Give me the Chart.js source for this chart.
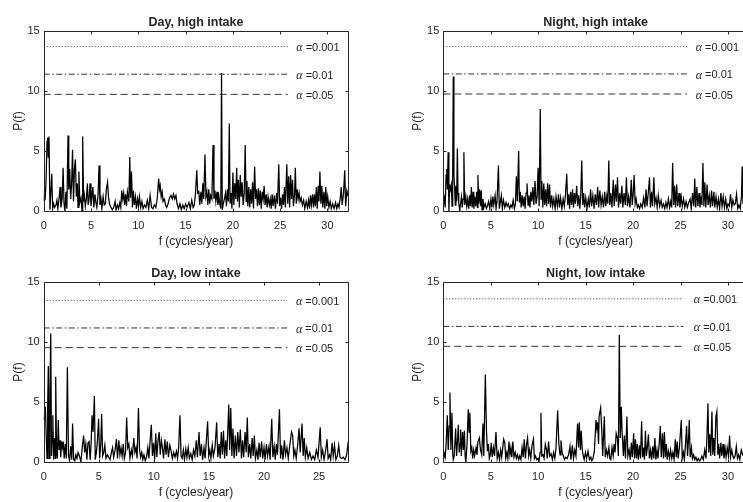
<!DOCTYPE html>
<html><head><meta charset="utf-8">
<script src="https://cdn.jsdelivr.net/npm/chart.js@4.4.0/dist/chart.umd.min.js"></script>
<style>
html,body{margin:0;padding:0;background:#fff;overflow:hidden;width:743px;height:502px;position:relative;}
canvas{position:absolute;}
</style></head><body>
<canvas id="c0" width="372" height="251" style="left:0;top:0"></canvas>
<canvas id="c1" width="380" height="251" style="left:372px;top:0"></canvas>
<canvas id="c2" width="372" height="251" style="left:0;top:251px"></canvas>
<canvas id="c3" width="380" height="251" style="left:372px;top:251px"></canvas>
<script>
// ---- data: [frequency (cycles/year), P(f)] vertices ----
const dayHigh = [[0.00,0.8],[0.08,1.8],[0.15,0.9],[0.25,2.5],[0.35,5.8],[0.42,6.1],[0.48,4.5],[0.56,6.2],[0.66,0.1],[0.75,1.5],[0.85,3.1],[0.95,0.2],[1.05,0.6],[1.15,0.3],[1.30,0.5],[1.40,0.9],[1.50,0.2],[1.62,1.0],[1.73,2.0],[1.82,0.3],[1.95,1.0],[2.05,3.6],[2.15,0.6],[2.25,0.0],[2.35,1.6],[2.45,0.2],[2.57,6.3],[2.65,1.8],[2.75,3.5],[2.85,1.0],[2.95,2.2],[3.05,5.1],[3.15,0.8],[3.25,3.5],[3.35,4.3],[3.45,1.2],[3.55,2.3],[3.63,0.3],[3.72,3.3],[3.82,0.7],[3.95,1.1],[4.05,0.0],[4.12,6.2],[4.22,0.8],[4.30,1.3],[4.40,0.4],[4.52,1.1],[4.62,2.3],[4.70,0.5],[4.80,1.0],[4.90,2.3],[5.00,0.4],[5.10,1.2],[5.20,2.0],[5.30,0.3],[5.42,1.4],[5.52,0.7],[5.62,0.3],[5.75,1.4],[5.85,3.8],[5.95,0.5],[6.05,1.0],[6.15,0.2],[6.28,1.2],[6.40,0.5],[6.52,0.6],[6.62,1.8],[6.75,2.4],[6.85,1.2],[6.95,0.6],[7.10,0.3],[7.25,0.1],[7.40,0.3],[7.55,0.8],[7.65,0.1],[7.80,0.5],[7.92,0.2],[8.05,0.7],[8.15,0.3],[8.25,1.7],[8.35,1.0],[8.45,1.5],[8.55,0.5],[8.65,1.4],[8.75,0.4],[8.85,1.6],[9.00,0.8],[9.10,4.5],[9.18,1.1],[9.28,3.3],[9.38,0.3],[9.48,1.7],[9.58,0.5],[9.70,1.2],[9.80,0.2],[9.92,1.0],[10.02,0.4],[10.12,1.2],[10.25,0.3],[10.38,0.8],[10.50,0.2],[10.65,0.5],[10.80,0.3],[10.95,0.9],[11.10,0.2],[11.25,1.3],[11.40,0.3],[11.55,0.2],[11.70,0.5],[11.85,0.3],[12.00,1.0],[12.15,2.7],[12.25,1.8],[12.32,2.1],[12.42,1.2],[12.52,1.6],[12.62,0.8],[12.75,1.0],[12.88,0.5],[13.00,0.3],[13.15,0.6],[13.30,1.1],[13.45,1.3],[13.60,1.0],[13.72,1.4],[13.85,1.0],[13.98,1.3],[14.10,0.6],[14.25,0.2],[14.40,0.6],[14.55,0.1],[14.70,0.5],[14.85,0.2],[15.00,0.6],[15.15,0.3],[15.35,0.7],[15.50,0.2],[15.65,0.9],[15.80,0.3],[15.92,0.5],[16.05,1.5],[16.18,3.4],[16.28,1.5],[16.40,1.6],[16.50,0.5],[16.62,1.6],[16.72,0.6],[16.82,2.3],[16.92,1.0],[17.05,4.7],[17.15,1.2],[17.25,1.6],[17.35,0.5],[17.45,1.8],[17.55,0.6],[17.65,1.3],[17.78,1.0],[17.90,5.5],[18.00,1.0],[18.10,1.7],[18.20,0.8],[18.32,1.6],[18.42,0.5],[18.52,1.2],[18.62,0.6],[18.72,0.2],[18.80,11.5],[18.88,0.1],[18.98,0.6],[19.10,1.0],[19.22,1.5],[19.32,0.4],[19.42,1.8],[19.52,0.8],[19.62,7.3],[19.70,0.6],[19.80,1.5],[19.90,0.2],[20.00,3.2],[20.10,0.5],[20.20,2.3],[20.30,1.0],[20.40,3.6],[20.48,0.8],[20.58,2.6],[20.68,0.3],[20.78,3.0],[20.88,1.2],[20.98,2.4],[21.08,0.5],[21.20,1.5],[21.30,5.5],[21.40,0.8],[21.48,2.5],[21.58,0.4],[21.68,2.0],[21.78,0.3],[21.88,1.8],[21.98,0.6],[22.08,2.4],[22.18,0.2],[22.30,3.7],[22.40,1.0],[22.50,1.8],[22.60,0.4],[22.70,1.9],[22.80,0.5],[22.90,1.7],[23.00,0.2],[23.10,1.6],[23.20,1.0],[23.30,2.1],[23.40,0.5],[23.52,1.4],[23.62,0.3],[23.72,1.2],[23.85,0.5],[23.95,1.0],[24.05,0.2],[24.15,1.4],[24.25,0.4],[24.38,1.3],[24.50,0.2],[24.62,1.5],[24.72,0.6],[24.85,3.9],[24.95,0.4],[25.05,1.1],[25.15,0.2],[25.25,1.4],[25.35,0.5],[25.45,2.0],[25.55,0.3],[25.70,3.9],[25.80,0.6],[25.90,2.9],[26.00,0.3],[26.10,3.0],[26.20,1.0],[26.30,2.6],[26.40,0.4],[26.52,1.4],[26.60,3.6],[26.70,0.6],[26.80,1.8],[26.90,1.0],[27.00,1.5],[27.10,0.8],[27.22,1.1],[27.35,0.5],[27.48,0.9],[27.60,0.2],[27.75,0.8],[27.88,0.3],[28.00,0.9],[28.10,0.2],[28.20,1.3],[28.30,0.5],[28.42,1.4],[28.52,0.3],[28.62,1.4],[28.72,0.4],[28.82,2.0],[28.92,0.2],[29.02,2.1],[29.10,0.8],[29.20,3.3],[29.30,0.6],[29.40,2.1],[29.50,0.3],[29.62,1.6],[29.72,0.2],[29.82,2.0],[29.92,0.4],[30.02,1.2],[30.15,0.3],[30.28,0.8],[30.40,0.2],[30.55,0.6],[30.70,0.2],[30.85,0.7],[30.98,0.2],[31.10,0.6],[31.22,0.3],[31.35,1.1],[31.45,2.0],[31.55,0.5],[31.70,1.5],[31.82,3.4],[31.92,0.4],[32.05,1.7],[32.20,1.2]];

const nightHigh = [[0.00,1.2],[0.06,0.6],[0.12,1.0],[0.20,0.3],[0.29,3.0],[0.36,3.5],[0.43,1.8],[0.51,4.9],[0.59,0.0],[0.67,2.2],[0.75,1.8],[0.84,2.2],[0.92,0.4],[0.99,3.0],[1.05,11.2],[1.12,3.0],[1.19,2.0],[1.26,0.5],[1.33,2.1],[1.41,0.8],[1.48,5.2],[1.55,1.5],[1.63,0.7],[1.73,0.0],[1.82,0.6],[1.92,1.2],[2.00,0.3],[2.09,1.0],[2.17,4.9],[2.26,0.5],[2.37,1.2],[2.47,0.4],[2.57,1.0],[2.67,0.2],[2.77,1.3],[2.86,0.4],[2.96,2.0],[3.04,0.3],[3.14,1.6],[3.22,0.2],[3.32,1.2],[3.42,0.4],[3.52,1.6],[3.59,0.3],[3.65,3.0],[3.73,0.6],[3.83,1.8],[3.92,0.4],[4.00,1.7],[4.08,0.1],[4.18,1.0],[4.28,0.3],[4.41,0.6],[4.54,0.2],[4.64,0.4],[4.77,0.8],[4.90,0.2],[5.02,1.0],[5.12,0.3],[5.22,1.2],[5.32,0.5],[5.46,1.3],[5.56,0.2],[5.66,0.8],[5.81,3.8],[5.90,0.2],[6.00,0.7],[6.12,1.3],[6.22,0.2],[6.34,0.9],[6.48,0.3],[6.61,0.7],[6.73,0.4],[6.85,0.6],[6.99,0.2],[7.12,0.5],[7.24,0.3],[7.36,0.9],[7.50,0.2],[7.60,0.6],[7.70,2.9],[7.80,0.8],[7.94,5.0],[8.02,0.7],[8.11,1.6],[8.21,0.3],[8.31,1.3],[8.42,0.4],[8.52,1.2],[8.62,0.2],[8.72,1.5],[8.82,2.3],[8.93,0.5],[9.03,1.3],[9.13,0.3],[9.23,1.6],[9.33,0.8],[9.44,2.0],[9.54,0.5],[9.67,2.5],[9.77,0.6],[9.89,1.2],[9.99,3.6],[10.10,0.4],[10.22,8.5],[10.30,1.0],[10.38,2.5],[10.49,0.3],[10.59,2.3],[10.69,0.5],[10.79,1.8],[10.89,0.4],[11.00,2.3],[11.10,0.6],[11.20,2.2],[11.30,0.3],[11.42,1.3],[11.53,0.4],[11.65,1.0],[11.78,0.2],[11.88,1.2],[12.02,0.4],[12.14,1.4],[12.24,0.3],[12.36,1.1],[12.50,0.2],[12.63,1.0],[12.75,0.4],[12.87,1.3],[13.01,3.1],[13.11,0.5],[13.21,1.4],[13.31,0.2],[13.41,1.6],[13.52,0.5],[13.62,1.8],[13.72,0.3],[13.82,1.5],[13.92,0.6],[14.06,2.1],[14.16,0.4],[14.28,1.3],[14.38,0.2],[14.48,1.2],[14.59,4.2],[14.69,0.5],[14.79,1.5],[14.89,0.3],[15.01,1.1],[15.15,0.2],[15.28,1.0],[15.40,0.3],[15.52,1.8],[15.63,0.4],[15.76,1.3],[15.89,0.2],[16.01,1.4],[16.14,0.5],[16.27,2.0],[16.37,0.3],[16.50,1.7],[16.63,0.5],[16.75,1.2],[16.88,0.3],[17.01,1.6],[17.12,0.4],[17.24,1.3],[17.34,0.6],[17.44,4.2],[17.54,0.5],[17.65,1.5],[17.77,0.3],[17.91,2.6],[18.01,0.4],[18.14,2.2],[18.24,0.8],[18.36,2.8],[18.46,0.3],[18.58,1.5],[18.69,0.6],[18.82,2.1],[18.92,0.3],[19.05,1.5],[19.18,0.5],[19.30,2.8],[19.40,0.4],[19.53,1.2],[19.67,0.3],[19.81,2.6],[19.91,0.5],[20.01,1.4],[20.11,3.0],[20.22,0.6],[20.32,1.0],[20.45,0.3],[20.55,0.5],[20.69,0.2],[20.81,0.6],[20.96,0.3],[21.11,1.1],[21.24,0.3],[21.37,1.8],[21.47,0.4],[21.60,1.5],[21.73,2.8],[21.83,0.3],[21.95,1.6],[22.05,0.4],[22.19,2.8],[22.29,0.6],[22.42,1.1],[22.54,0.3],[22.66,1.3],[22.80,0.4],[22.95,0.9],[23.07,0.3],[23.21,0.6],[23.34,0.2],[23.46,0.7],[23.58,0.3],[23.72,1.0],[23.85,0.3],[23.97,0.8],[24.07,0.3],[24.17,4.0],[24.28,0.5],[24.38,2.1],[24.48,0.3],[24.60,2.2],[24.70,0.4],[24.84,1.5],[24.94,0.3],[25.07,1.2],[25.19,0.4],[25.32,1.0],[25.45,0.3],[25.58,0.8],[25.72,0.3],[25.86,0.7],[26.01,1.0],[26.13,0.2],[26.27,1.5],[26.40,0.4],[26.50,2.7],[26.60,0.3],[26.72,2.0],[26.83,0.4],[26.95,1.5],[27.05,0.3],[27.15,1.2],[27.25,0.5],[27.36,4.0],[27.46,0.4],[27.56,2.4],[27.66,0.3],[27.80,2.2],[27.90,0.5],[28.03,1.3],[28.15,0.3],[28.27,1.7],[28.38,0.4],[28.51,1.6],[28.61,0.3],[28.74,1.2],[28.87,0.3],[28.99,1.0],[29.12,0.2],[29.25,1.5],[29.38,0.4],[29.50,1.2],[29.63,0.3],[29.76,1.0],[29.89,0.2],[30.01,0.6],[30.14,0.4],[30.27,1.4],[30.40,0.3],[30.52,0.9],[30.65,0.5],[30.78,0.6],[30.90,1.4],[31.03,0.2],[31.16,0.5],[31.29,0.2],[31.42,1.2],[31.50,3.7],[31.58,0.6],[31.72,1.4],[31.87,0.5],[32.10,1.0]];

const dayLow = [[0.00,3.5],[0.07,4.0],[0.15,4.6],[0.22,2.5],[0.30,0.3],[0.36,4.5],[0.42,8.0],[0.49,0.3],[0.57,6.0],[0.64,10.7],[0.71,0.5],[0.78,2.5],[0.83,3.9],[0.90,0.2],[0.98,2.0],[1.05,0.3],[1.09,7.1],[1.16,1.0],[1.24,0.3],[1.32,3.5],[1.40,1.0],[1.48,1.8],[1.55,0.4],[1.62,1.7],[1.70,1.2],[1.78,1.7],[1.86,0.3],[1.96,1.5],[2.05,0.3],[2.15,7.9],[2.25,0.5],[2.35,0.1],[2.45,1.3],[2.55,0.2],[2.62,3.2],[2.72,0.2],[2.82,0.1],[2.92,0.6],[3.02,0.3],[3.12,0.8],[3.25,0.5],[3.38,0.0],[3.50,1.2],[3.62,2.2],[3.72,0.8],[3.82,1.5],[3.92,0.2],[4.02,1.6],[4.12,1.7],[4.22,0.2],[4.30,1.5],[4.39,3.9],[4.48,2.5],[4.60,5.5],[4.68,0.2],[4.78,0.8],[4.88,1.8],[4.98,3.6],[5.08,0.3],[5.18,1.5],[5.26,4.0],[5.35,0.5],[5.45,0.8],[5.55,1.4],[5.65,0.3],[5.78,0.6],[5.90,0.4],[6.02,0.2],[6.15,0.8],[6.25,1.2],[6.35,0.4],[6.48,1.0],[6.60,1.9],[6.70,0.3],[6.82,1.8],[6.92,0.6],[7.02,1.2],[7.12,0.5],[7.22,1.5],[7.32,0.3],[7.43,0.8],[7.53,3.7],[7.63,1.2],[7.73,1.5],[7.83,0.3],[7.95,1.0],[8.05,0.5],[8.18,2.0],[8.28,0.8],[8.38,1.2],[8.48,0.3],[8.60,4.5],[8.70,1.0],[8.80,0.4],[8.90,0.8],[9.00,0.2],[9.10,0.6],[9.22,0.1],[9.35,0.5],[9.45,1.2],[9.55,0.3],[9.66,1.8],[9.77,3.1],[9.87,0.5],[9.97,1.6],[10.07,0.2],[10.17,2.4],[10.27,0.4],[10.38,1.8],[10.48,2.5],[10.58,0.6],[10.68,1.8],[10.78,1.2],[10.88,0.3],[11.00,1.9],[11.10,0.6],[11.22,1.7],[11.32,0.4],[11.45,1.4],[11.55,1.0],[11.68,0.3],[11.80,0.8],[11.92,0.4],[12.05,0.9],[12.15,0.3],[12.25,1.2],[12.37,3.9],[12.47,0.5],[12.57,0.3],[12.68,1.0],[12.78,0.2],[12.90,1.1],[13.00,0.4],[13.12,1.2],[13.22,0.3],[13.35,0.7],[13.48,0.2],[13.60,1.0],[13.72,0.5],[13.85,1.8],[13.95,0.4],[14.10,2.5],[14.20,0.5],[14.32,1.5],[14.42,0.2],[14.55,1.2],[14.65,0.3],[14.78,2.0],[14.88,3.4],[14.98,0.5],[15.08,1.0],[15.18,0.3],[15.30,1.4],[15.40,0.5],[15.55,1.2],[15.70,3.3],[15.80,0.4],[15.92,1.5],[16.02,0.3],[16.12,2.5],[16.22,0.6],[16.32,2.6],[16.42,0.3],[16.52,1.8],[16.62,0.5],[16.80,4.8],[16.88,1.0],[16.98,4.5],[17.08,0.5],[17.18,2.8],[17.28,0.3],[17.40,2.2],[17.50,0.5],[17.62,2.5],[17.72,0.8],[17.85,2.7],[17.95,0.3],[18.05,1.8],[18.15,0.4],[18.28,2.5],[18.38,0.8],[18.48,3.7],[18.58,0.4],[18.70,1.5],[18.80,0.3],[18.92,2.0],[19.02,0.5],[19.12,2.2],[19.22,0.3],[19.35,1.0],[19.45,0.2],[19.55,1.6],[19.65,0.4],[19.78,1.7],[19.88,0.3],[20.00,1.2],[20.10,0.2],[20.22,1.5],[20.32,0.5],[20.45,1.3],[20.55,0.2],[20.70,3.6],[20.80,0.4],[20.92,1.3],[21.02,0.2],[21.12,1.5],[21.22,0.6],[21.40,4.4],[21.50,0.3],[21.60,1.4],[21.72,0.2],[21.85,1.8],[21.95,0.6],[22.08,1.2],[22.20,0.3],[22.35,1.5],[22.50,2.5],[22.60,2.2],[22.70,0.5],[22.80,1.0],[22.92,0.3],[23.05,1.4],[23.18,2.8],[23.28,0.8],[23.45,3.2],[23.55,0.5],[23.65,2.0],[23.75,0.4],[23.88,1.2],[24.00,0.3],[24.15,0.8],[24.30,0.2],[24.45,0.5],[24.60,0.2],[24.75,1.0],[24.90,0.4],[25.10,2.9],[25.20,0.4],[25.32,1.0],[25.45,0.2],[25.60,1.0],[25.72,1.9],[25.82,0.3],[25.95,0.6],[26.05,0.2],[26.18,1.6],[26.28,0.5],[26.40,1.4],[26.52,0.2],[26.65,0.5],[26.78,1.4],[26.90,0.4],[27.05,0.3],[27.20,0.4],[27.35,0.2],[27.50,0.6],[27.65,1.7]];

const nightLow = [[0.00,0.1],[0.10,0.7],[0.20,0.4],[0.30,1.5],[0.42,3.9],[0.52,1.0],[0.62,3.0],[0.70,5.8],[0.80,1.0],[0.91,4.1],[1.00,0.6],[1.05,0.2],[1.15,0.5],[1.30,2.8],[1.40,0.5],[1.50,1.8],[1.58,3.1],[1.68,0.8],[1.76,1.5],[1.83,2.7],[1.90,0.5],[2.03,2.5],[2.12,1.0],[2.22,2.6],[2.30,0.5],[2.38,0.0],[2.50,1.5],[2.63,4.4],[2.72,2.5],[2.80,4.1],[2.90,0.9],[3.00,1.2],[3.10,0.3],[3.20,1.0],[3.30,0.5],[3.45,1.2],[3.55,0.6],[3.65,1.7],[3.80,2.0],[3.92,1.0],[4.05,0.6],[4.18,3.2],[4.27,0.5],[4.43,7.3],[4.55,2.6],[4.65,0.9],[4.75,1.5],[4.85,0.3],[4.95,0.6],[5.05,1.6],[5.15,0.4],[5.28,1.2],[5.40,0.5],[5.55,2.5],[5.68,0.3],[5.80,0.8],[5.92,0.2],[6.05,1.0],[6.15,0.4],[6.28,1.3],[6.36,1.9],[6.48,1.6],[6.58,0.3],[6.70,0.8],[6.80,0.3],[6.92,1.7],[7.02,0.6],[7.12,1.2],[7.22,0.4],[7.33,1.7],[7.45,0.4],[7.58,0.8],[7.70,0.3],[7.82,0.6],[7.95,0.2],[8.05,0.5],[8.18,0.2],[8.30,1.2],[8.42,0.4],[8.53,1.9],[8.65,0.3],[8.78,1.5],[8.88,2.0],[9.00,0.5],[9.10,1.0],[9.22,0.3],[9.35,1.4],[9.50,1.9],[9.60,0.3],[9.72,0.5],[9.85,0.2],[10.00,0.3],[10.10,0.1],[10.20,0.8],[10.29,4.1],[10.38,0.5],[10.50,0.6],[10.62,0.3],[10.75,1.5],[10.88,1.0],[10.95,0.3],[11.10,1.7],[11.20,0.5],[11.35,0.7],[11.50,0.2],[11.62,0.8],[11.75,0.3],[11.88,1.2],[12.05,4.3],[12.18,1.5],[12.30,0.6],[12.40,1.8],[12.52,0.8],[12.65,0.5],[12.78,0.2],[12.90,0.4],[13.05,0.3],[13.20,0.6],[13.35,1.3],[13.45,0.2],[13.60,1.4],[13.72,0.3],[13.85,1.0],[13.98,0.5],[14.15,3.2],[14.25,1.2],[14.33,3.3],[14.45,1.0],[14.53,2.6],[14.65,1.0],[14.75,0.5],[14.85,0.2],[14.98,0.8],[15.10,0.3],[15.25,0.9],[15.40,0.2],[15.55,0.4],[15.65,0.1],[15.78,0.3],[15.92,0.9],[16.09,3.5],[16.18,2.8],[16.26,3.3],[16.36,1.5],[16.42,3.8],[16.58,4.5],[16.70,2.7],[16.80,0.5],[16.97,3.8],[17.07,0.4],[17.20,1.0],[17.32,0.5],[17.45,1.2],[17.55,0.3],[17.65,0.2],[17.78,1.2],[17.90,0.5],[18.00,1.5],[18.10,0.8],[18.22,2.4],[18.35,2.0],[18.45,0.5],[18.55,10.6],[18.65,2.0],[18.76,4.6],[18.85,2.4],[18.98,0.5],[19.08,2.2],[19.20,0.3],[19.35,3.8],[19.45,0.5],[19.58,1.0],[19.70,0.2],[19.82,1.6],[19.92,0.4],[20.06,2.4],[20.15,0.3],[20.25,1.9],[20.35,0.3],[20.45,1.5],[20.55,0.2],[20.68,1.4],[20.78,0.3],[20.90,3.4],[21.00,0.4],[21.10,1.2],[21.20,0.2],[21.30,2.6],[21.40,0.5],[21.50,1.2],[21.62,2.3],[21.72,0.3],[21.85,1.0],[21.95,0.2],[22.08,1.3],[22.18,0.3],[22.30,2.0],[22.40,0.2],[22.52,1.0],[22.62,0.3],[22.75,1.5],[22.87,3.0],[22.97,0.4],[23.10,2.4],[23.20,0.3],[23.30,2.5],[23.40,0.4],[23.50,1.5],[23.60,0.2],[23.72,0.9],[23.85,0.3],[23.95,1.0],[24.08,0.3],[24.20,0.8],[24.32,0.2],[24.45,1.9],[24.55,0.4],[24.65,1.7],[24.75,0.3],[24.88,1.2],[25.08,3.5],[25.18,0.3],[25.30,0.8],[25.40,0.2],[25.50,1.2],[25.64,3.0],[25.74,0.5],[25.85,2.0],[25.92,3.5],[26.02,0.4],[26.15,1.2],[26.25,0.3],[26.38,0.6],[26.50,0.2],[26.62,0.4],[26.75,0.1],[26.88,0.3],[27.00,0.1],[27.12,0.2],[27.25,0.5],[27.40,0.2],[27.55,1.0],[27.68,0.3],[27.78,2.0],[27.89,4.9],[27.98,0.8],[28.08,2.3],[28.18,0.5],[28.31,4.2],[28.40,0.6],[28.50,2.0],[28.60,0.5],[28.73,3.8],[28.83,4.2],[28.93,0.6],[29.02,1.5],[29.12,0.3],[29.25,1.6],[29.35,0.5],[29.48,1.5],[29.58,0.3],[29.70,1.1],[29.80,0.4],[29.92,1.2],[30.05,0.5],[30.17,2.2],[30.27,0.4],[30.40,1.0],[30.52,0.5],[30.62,0.3],[30.75,0.5],[30.88,1.3],[31.00,0.3],[31.12,0.6],[31.25,0.2],[31.40,1.0],[31.55,0.6],[31.80,1.0]];

// significance levels and their thresholds (P values) per panel
const alphaLabels = ['0.001', '0.01', '0.05'];
const dayHighAlpha   = [13.7, 11.4, 9.72];
const nightHighAlpha = [13.7, 11.42, 9.75];
const dayLowAlpha    = [13.47, 11.17, 9.53];
const nightLowAlpha  = [13.6, 11.3, 9.64];

const xTicks32 = [0, 5, 10, 15, 20, 25, 30];
const xTicks28 = [0, 5, 10, 15, 20, 25];
const yTicks = [0, 5, 10, 15];

const titles = ['Day, high intake', 'Night, high intake', 'Day, low intake', 'Night, low intake'];
const xLabel = 'f (cycles/year)';
const yLabel = 'P(f)';

// ---- styling / layout ----
const TXT = '#262626';
const FONT = '"Liberation Sans", Arial, Helvetica, sans-serif';
const dashes = [[1, 2], [6, 2.5, 1.5, 2.5], [7, 4]];

const panels = [
  {id: 'c0', title: titles[0], data: dayHigh,   alpha: dayHighAlpha,   xMax: 32.2,  ticks: xTicks32, lineEnd: 25.8, labelX: 26.7, padL: 0,    padR: 23.7},
  {id: 'c1', title: titles[1], data: nightHigh, alpha: nightHighAlpha, xMax: 32.1,  ticks: xTicks32, lineEnd: 25.7, labelX: 26.6, padL: 27.6, padR: 4.1},
  {id: 'c2', title: titles[2], data: dayLow,    alpha: dayLowAlpha,    xMax: 27.65, ticks: xTicks28, lineEnd: 22.1, labelX: 22.9, padL: 0,    padR: 23.7},
  {id: 'c3', title: titles[3], data: nightLow,  alpha: nightLowAlpha,  xMax: 32.1,  ticks: xTicks32, lineEnd: 25.3, labelX: 26.4, padL: 27.6, padR: 4.1}
];

function boxPlugin(p) {
  return {
    id: 'box_' + p.id,
    afterDatasetsDraw(chart) {
      const {ctx, chartArea: a, scales: {x, y}} = chart;
      const L = Math.round(a.left) + 0.5, R = Math.round(a.right) + 0.5;
      const T = Math.round(a.top) + 0.5, B = Math.round(a.bottom) + 0.5;
      ctx.save();
      ctx.strokeStyle = TXT; ctx.lineWidth = 1; ctx.setLineDash([]);
      ctx.beginPath(); ctx.rect(L, T, R - L, B - T); ctx.stroke();
      ctx.beginPath();
      x.ticks.forEach(t => {
        const px = Math.round(x.getPixelForValue(t.value)) + 0.5;
        ctx.moveTo(px, B); ctx.lineTo(px, B - 3);
        ctx.moveTo(px, T); ctx.lineTo(px, T + 3);
      });
      y.ticks.forEach(t => {
        const py = Math.round(y.getPixelForValue(t.value)) + 0.5;
        ctx.moveTo(L, py); ctx.lineTo(L + 3, py);
        ctx.moveTo(R, py); ctx.lineTo(R - 3, py);
      });
      ctx.stroke();
      // threshold labels
      ctx.fillStyle = TXT; ctx.textBaseline = 'middle'; ctx.textAlign = 'left';
      p.alpha.forEach((v, i) => {
        const px = x.getPixelForValue(p.labelX);
        const py = y.getPixelForValue(v) + 1.5;
        ctx.font = 'italic 12px "Liberation Serif", "DejaVu Serif", serif';
        ctx.fillText('\u03B1', px, py);
        const w = ctx.measureText('\u03B1').width;
        ctx.font = '11px ' + FONT;
        ctx.fillText(' =' + alphaLabels[i], px + w, py);
      });
      // panel title
      ctx.font = 'bold 12.5px ' + FONT;
      ctx.textAlign = 'center';
      ctx.fillText(p.title, (a.left + a.right) / 2, a.top - 8);
      ctx.restore();
    }
  };
}

panels.forEach(p => {
  const series = p.data.map(d => ({x: d[0], y: d[1]}));
  const thr = p.alpha.map((v, i) => ({
    data: [{x: 0, y: v}, {x: p.lineEnd, y: v}],
    borderColor: '#333333', borderWidth: 1, borderDash: dashes[i],
    pointRadius: 0, fill: false
  }));
  new Chart(document.getElementById(p.id), {
    type: 'line',
    data: {datasets: [...thr, {data: series, borderColor: '#000000', borderWidth: 1.25, pointRadius: 0, tension: 0, fill: false}]},
    options: {
      responsive: false, animation: false, events: [],
      layout: {padding: {left: p.padL, right: p.padR, top: 31, bottom: 0}},
      plugins: {legend: {display: false}, tooltip: {enabled: false}, title: {display: false}},
      scales: {
        x: {
          type: 'linear', min: 0, max: p.xMax,
          afterBuildTicks: s => { s.ticks = p.ticks.map(v => ({value: v})); },
          afterFit: s => { s.height = 40; },
          grid: {display: false, drawTicks: false}, border: {display: false},
          ticks: {padding: 8, color: TXT, font: {family: FONT, size: 11}, maxRotation: 0, autoSkip: false},
          title: {display: true, text: xLabel, color: TXT, font: {family: FONT, size: 12}, padding: {top: 0, bottom: 2.3}}
        },
        y: {
          type: 'linear', min: 0, max: 15,
          afterBuildTicks: s => { s.ticks = yTicks.map(v => ({value: v})); },
          afterFit: s => { s.width = 43.7; },
          grid: {display: false, drawTicks: false}, border: {display: false},
          ticks: {padding: 4, color: TXT, font: {family: FONT, size: 11}},
          title: {display: true, text: yLabel, color: TXT, font: {family: FONT, size: 12}, padding: {top: 11, bottom: 0}}
        }
      }
    },
    plugins: [boxPlugin(p)]
  });
});
</script>
</body></html>
